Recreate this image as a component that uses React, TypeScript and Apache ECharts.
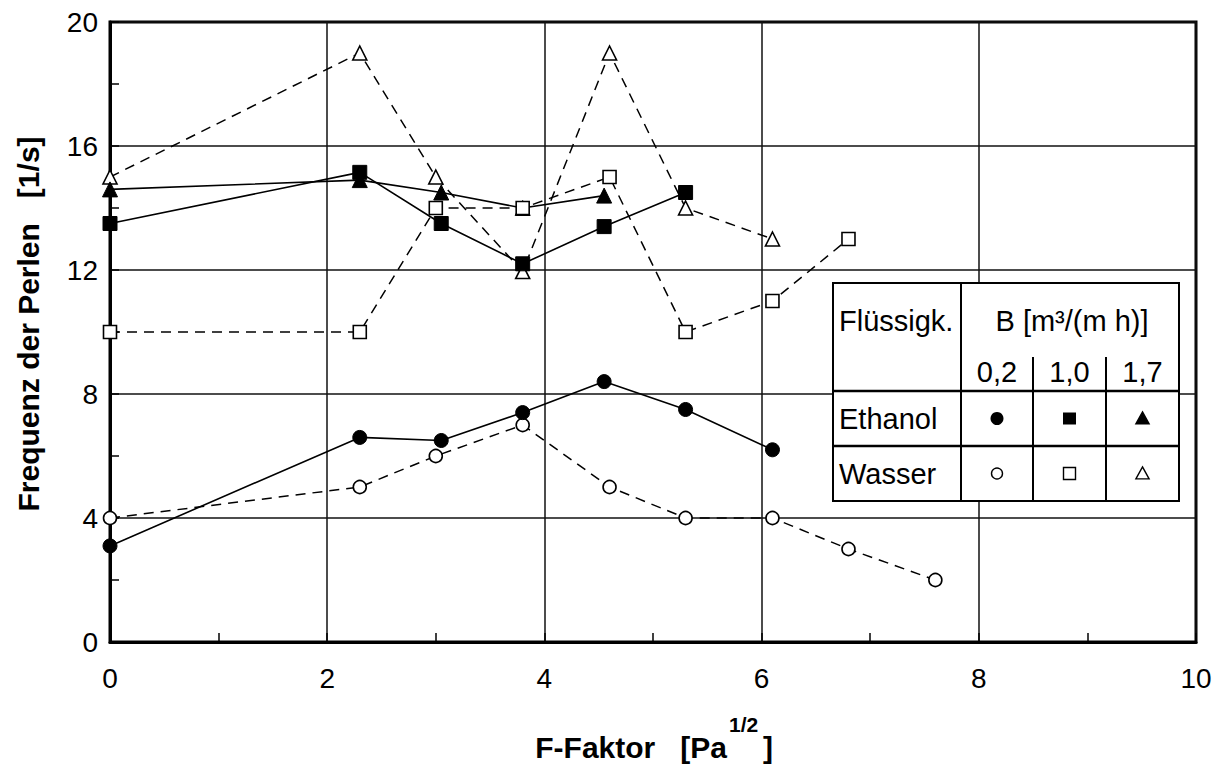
import React, { useEffect, useRef } from "react";
import * as echarts from "echarts";

// F-Faktor [Pa^1/2] vs. Frequenz der Perlen [1/s]
const ethanol02: [number, number][] = [
  [0, 3.1], [2.3, 6.6], [3.05, 6.5], [3.8, 7.4], [4.55, 8.4], [5.3, 7.5], [6.1, 6.2],
];
const ethanol10: [number, number][] = [
  [0, 13.5], [2.3, 15.15], [3.05, 13.5], [3.8, 12.2], [4.55, 13.4], [5.3, 14.5],
];
const ethanol17: [number, number][] = [
  [0, 14.6], [2.3, 14.9], [3.05, 14.5], [3.8, 14.0], [4.55, 14.4],
];
const wasser02: [number, number][] = [
  [0, 4], [2.3, 5], [3.0, 6], [3.8, 7], [4.6, 5], [5.3, 4], [6.1, 4], [6.8, 3], [7.6, 2],
];
const wasser10: [number, number][] = [
  [0, 10], [2.3, 10], [3.0, 14], [3.8, 14], [4.6, 15], [5.3, 10], [6.1, 11], [6.8, 13],
];
const wasser17: [number, number][] = [
  [0, 15], [2.3, 19], [3.0, 15], [3.8, 11.95], [4.6, 19], [5.3, 14], [6.1, 13],
];

const liquids = ["Ethanol", "Wasser"];
const flowRates = ["0,2", "1,0", "1,7"];
const liquidHeader = "Flüssigk.";
const flowHeader = "B [m³/(m h)]";
const xTitle = "F-Faktor   [Pa";
const xTitleSup = "1/2";
const xTitleEnd = "]";
const yTitle = "Frequenz der Perlen   [1/s]";

const FONT = '"Liberation Sans", Arial, Helvetica, sans-serif';

export default function App() {
  const ref = useRef<HTMLDivElement>(null);

  useEffect(() => {
    if (!ref.current) return;
    const chart = echarts.init(ref.current, null, { renderer: "svg" });

    const solid = { color: "#000", width: 1.6, type: "solid" as const };
    const dashed = { color: "#000", width: 1.5, type: [10, 7] as any };
    const filled = { color: "#000", borderColor: "#000", borderWidth: 1 };
    const open = { color: "#fff", borderColor: "#000", borderWidth: 1.6 };

    const mk = (name: string, data: [number, number][], symbol: string, size: number, isOpen: boolean) => ({
      name,
      type: "line",
      data,
      symbol,
      symbolSize: size,
      showSymbol: true,
      lineStyle: isOpen ? dashed : solid,
      itemStyle: isOpen ? open : filled,
      emphasis: { disabled: true },
      silent: true,
      z: 3,
    });

    const series = [
      mk(`${liquids[1]} ${flowRates[2]}`, wasser17, "triangle", 14, true),
      mk(`${liquids[0]} ${flowRates[2]}`, ethanol17, "triangle", 15, false),
      mk(`${liquids[1]} ${flowRates[1]}`, wasser10, "rect", 13, true),
      mk(`${liquids[0]} ${flowRates[1]}`, ethanol10, "rect", 14, false),
      mk(`${liquids[1]} ${flowRates[0]}`, wasser02, "circle", 13, true),
      mk(`${liquids[0]} ${flowRates[0]}`, ethanol02, "circle", 14, false),
    ];

    // legend table geometry
    const tL = 833, tR = 1179, tT = 283, tB = 501;
    const rowA = 391, rowB = 446, colA = 961, colB = 1033, colC = 1106, subTop = 357;
    const colCenters = [(colA + colB) / 2, (colB + colC) / 2, (colC + tR) / 2];
    const rowCenters = [(rowA + rowB) / 2, (rowB + tB) / 2];
    const txt = (text: string, x: number, y: number, align: string, extra: any = {}) => ({
      type: "text",
      x,
      y,
      z: 101,
      silent: true,
      style: {
        text,
        fill: "#000",
        fontSize: 29,
        fontFamily: FONT,
        align,
        verticalAlign: "middle",
        ...extra,
      },
    });
    const ln = (x1: number, y1: number, x2: number, y2: number, w = 2) => ({
      type: "line",
      z: 101,
      silent: true,
      shape: { x1, y1, x2, y2 },
      style: { stroke: "#000", lineWidth: w },
    });
    const tri = (cx: number, cy: number, s: number, fill: string) => ({
      type: "polygon",
      z: 102,
      silent: true,
      shape: { points: [[cx, cy - s * 0.55], [cx + s * 0.55, cy + s * 0.45], [cx - s * 0.55, cy + s * 0.45]] },
      style: { fill, stroke: "#000", lineWidth: 1.4 },
    });

    const graphic: any[] = [
      {
        type: "rect",
        z: 100,
        silent: true,
        shape: { x: tL, y: tT, width: tR - tL, height: tB - tT },
        style: { fill: "#fff", stroke: "#000", lineWidth: 2 },
      },
      ln(tL, rowA, tR, rowA, 2.5),
      ln(tL, rowB, tR, rowB, 2.5),
      ln(colA, tT, colA, tB),
      ln(colB, subTop, colB, tB),
      ln(colC, subTop, colC, tB),
      txt(liquidHeader, 839, 321, "left"),
      txt(flowHeader, (colA + tR) / 2 + 2, 321, "center"),
      ...flowRates.map((f, i) => txt(f, colCenters[i], 372, "center")),
      ...liquids.map((l, i) => txt(l, 839, rowCenters[i], "left")),
      // Ethanol row markers (filled)
      { type: "circle", z: 102, silent: true, shape: { cx: colCenters[0], cy: rowCenters[0], r: 6.5 }, style: { fill: "#000" } },
      { type: "rect", z: 102, silent: true, shape: { x: colCenters[1] - 6.5, y: rowCenters[0] - 6, width: 13, height: 12 }, style: { fill: "#000" } },
      tri(colCenters[2], rowCenters[0], 12, "#000"),
      // Wasser row markers (open)
      { type: "circle", z: 102, silent: true, shape: { cx: colCenters[0], cy: rowCenters[1], r: 5.5 }, style: { fill: "#fff", stroke: "#000", lineWidth: 1.4 } },
      { type: "rect", z: 102, silent: true, shape: { x: colCenters[1] - 6, y: rowCenters[1] - 6, width: 12, height: 12 }, style: { fill: "#fff", stroke: "#000", lineWidth: 1.4 } },
      tri(colCenters[2], rowCenters[1], 12, "#fff"),
      // axis titles
      {
        type: "text",
        x: 28,
        y: 324,
        rotation: Math.PI / 2,
        silent: true,
        style: { text: yTitle, fill: "#000", fontSize: 30, fontWeight: "bold", fontFamily: FONT, align: "center", verticalAlign: "middle" },
      },
      {
        type: "text",
        x: 727,
        y: 747,
        silent: true,
        style: { text: xTitle, fill: "#000", fontSize: 30, fontWeight: "bold", fontFamily: FONT, align: "right", verticalAlign: "middle" },
      },
      {
        type: "text",
        x: 729,
        y: 724,
        silent: true,
        style: { text: xTitleSup, fill: "#000", fontSize: 21, fontWeight: "bold", fontFamily: FONT, align: "left", verticalAlign: "middle" },
      },
      {
        type: "text",
        x: 763,
        y: 747,
        silent: true,
        style: { text: xTitleEnd, fill: "#000", fontSize: 30, fontWeight: "bold", fontFamily: FONT, align: "left", verticalAlign: "middle" },
      },
    ];

    const axisCommon = {
      axisLine: { show: true, onZero: false, lineStyle: { color: "#000", width: 3 } },
      axisTick: { show: true, inside: true, length: 9, lineStyle: { color: "#000", width: 1.5 } },
      minorTick: { show: true, splitNumber: 2, length: 9, lineStyle: { color: "#000", width: 1.5 } },
      splitLine: { show: true, lineStyle: { color: "#111", width: 1.5 } },
      minorSplitLine: { show: false },
    };

    chart.setOption({
      animation: false,
      backgroundColor: "#fff",
      grid: {
        left: 110,
        right: 26,
        top: 22,
        bottom: 123,
        show: true,
        borderColor: "#000",
        borderWidth: 3,
        backgroundColor: "transparent",
        containLabel: false,
      },
      xAxis: {
        type: "value",
        min: 0,
        max: 10,
        interval: 2,
        ...axisCommon,
        axisLabel: { color: "#000", fontSize: 28, fontFamily: FONT, margin: 22 },
      },
      yAxis: {
        type: "value",
        min: 0,
        max: 20,
        interval: 4,
        ...axisCommon,
        axisLabel: { color: "#000", fontSize: 28, fontFamily: FONT, margin: 12 },
      },
      series,
      graphic,
    });

    return () => chart.dispose();
  }, []);

  return (
    <div
      ref={ref}
      style={{ position: "absolute", left: 0, top: 0, width: 1222, height: 765, background: "#fff" }}
    />
  );
}
